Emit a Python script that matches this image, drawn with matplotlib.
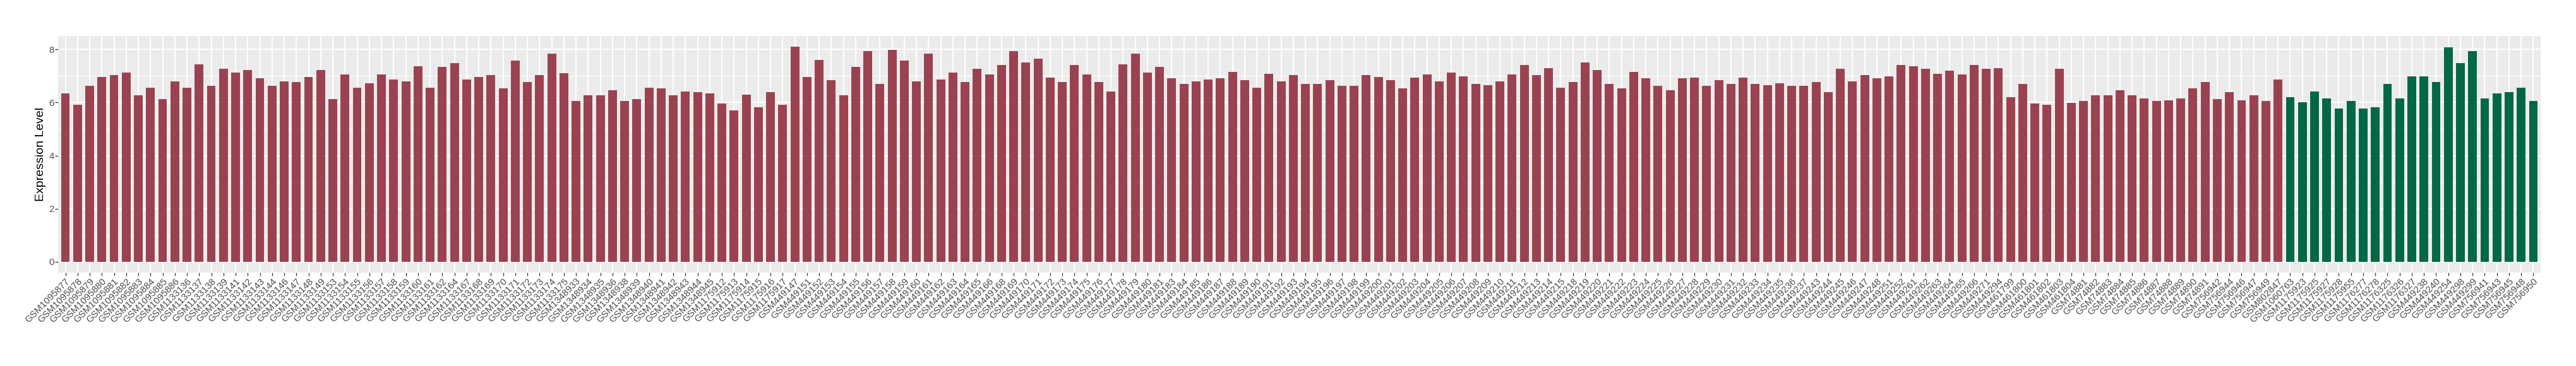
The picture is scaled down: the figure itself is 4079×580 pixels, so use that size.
import numpy as np
import matplotlib
matplotlib.use("Agg")
import matplotlib.pyplot as plt
from matplotlib.ticker import FixedLocator

# 第一组样本（暗红色）
samples_group1 = [
    "GSM1095877", "GSM1095878", "GSM1095879", "GSM1095880", "GSM1095881",
    "GSM1095882", "GSM1095883", "GSM1095884", "GSM1095885", "GSM1095886",
    "GSM1133136", "GSM1133137", "GSM1133138", "GSM1133139", "GSM1133141",
    "GSM1133142", "GSM1133143", "GSM1133144", "GSM1133146", "GSM1133147",
    "GSM1133148", "GSM1133149", "GSM1133153", "GSM1133154", "GSM1133155",
    "GSM1133156", "GSM1133157", "GSM1133158", "GSM1133159", "GSM1133160",
    "GSM1133161", "GSM1133162", "GSM1133164", "GSM1133167", "GSM1133168",
    "GSM1133169", "GSM1133170", "GSM1133171", "GSM1133172", "GSM1133173",
    "GSM1133174", "GSM1133175", "GSM1348933", "GSM1348934", "GSM1348935",
    "GSM1348936", "GSM1348938", "GSM1348939", "GSM1348940", "GSM1348941",
    "GSM1348942", "GSM1348943", "GSM1348944", "GSM1348945", "GSM1175912",
    "GSM1175913", "GSM1175914", "GSM1175915", "GSM1175916", "GSM1175917",
    "GSM449147", "GSM449151", "GSM449152", "GSM449153", "GSM449154",
    "GSM449155", "GSM449156", "GSM449157", "GSM449158", "GSM449159",
    "GSM449160", "GSM449161", "GSM449162", "GSM449163", "GSM449164",
    "GSM449165", "GSM449166", "GSM449168", "GSM449169", "GSM449170",
    "GSM449171", "GSM449172", "GSM449173", "GSM449174", "GSM449175",
    "GSM449176", "GSM449177", "GSM449178", "GSM449179", "GSM449180",
    "GSM449181", "GSM449183", "GSM449184", "GSM449185", "GSM449186",
    "GSM449187", "GSM449188", "GSM449189", "GSM449190", "GSM449191",
    "GSM449192", "GSM449193", "GSM449194", "GSM449195", "GSM449196",
    "GSM449197", "GSM449198", "GSM449199", "GSM449200", "GSM449201",
    "GSM449202", "GSM449203", "GSM449204", "GSM449205", "GSM449206",
    "GSM449207", "GSM449208", "GSM449209", "GSM449210", "GSM449211",
    "GSM449212", "GSM449213", "GSM449214", "GSM449215", "GSM449218",
    "GSM449219", "GSM449220", "GSM449221", "GSM449222", "GSM449223",
    "GSM449224", "GSM449225", "GSM449226", "GSM449227", "GSM449228",
    "GSM449229", "GSM449230", "GSM449231", "GSM449232", "GSM449233",
    "GSM449234", "GSM449235", "GSM449236", "GSM449237", "GSM449243",
    "GSM449244", "GSM449245", "GSM449246", "GSM449247", "GSM449248",
    "GSM449251", "GSM449252", "GSM449261", "GSM449262", "GSM449263",
    "GSM449264", "GSM449265", "GSM449266", "GSM449271", "GSM449294",
    "GSM461799", "GSM461800", "GSM461801", "GSM461802", "GSM461803",
    "GSM461804", "GSM74881", "GSM74882", "GSM74883", "GSM74884",
    "GSM74885", "GSM74886", "GSM74887", "GSM74888", "GSM74889",
    "GSM74890", "GSM74891", "GSM756942", "GSM756944", "GSM756946",
    "GSM756947", "GSM756949", "GSM802847",
]
values_group1 = [
    6.35, 5.91, 6.63, 6.97, 7.02, 7.13, 6.28, 6.56, 6.12, 6.80,
    6.56, 7.44, 6.62, 7.26, 7.13, 7.23, 6.90, 6.62, 6.80, 6.76,
    6.97, 7.23, 6.12, 7.06, 6.55, 6.73, 7.06, 6.87, 6.80, 7.37,
    6.56, 7.34, 7.49, 6.87, 6.97, 7.02, 6.52, 7.58, 6.78, 7.04,
    7.84, 7.11, 6.06, 6.26, 6.28, 6.47, 6.06, 6.12, 6.55, 6.52,
    6.26, 6.42, 6.38, 6.33, 5.95, 5.71, 6.30, 5.83, 6.40, 5.91,
    8.11, 6.97, 7.61, 6.85, 6.28, 7.34, 7.94, 6.70, 7.97, 7.58,
    6.80, 7.83, 6.87, 7.13, 6.76, 7.27, 7.06, 7.42, 7.94, 7.51,
    7.66, 6.94, 6.76, 7.40, 7.06, 6.76, 6.42, 7.44, 7.83, 7.13,
    7.33, 6.92, 6.70, 6.80, 6.87, 6.90, 7.16, 6.85, 6.55, 7.09,
    6.80, 7.02, 6.69, 6.69, 6.83, 6.63, 6.63, 7.02, 6.97, 6.85,
    6.52, 6.94, 7.06, 6.80, 7.13, 6.99, 6.69, 6.66, 6.80, 7.06,
    7.42, 7.02, 7.30, 6.55, 6.76, 7.51, 7.23, 6.69, 6.52, 7.16,
    6.92, 6.62, 6.45, 6.92, 6.94, 6.62, 6.85, 6.69, 6.94, 6.70,
    6.66, 6.73, 6.63, 6.62, 6.76, 6.40, 7.26, 6.80, 7.02, 6.92,
    6.99, 7.42, 7.37, 7.26, 7.09, 7.19, 7.06, 7.40, 7.26, 7.30,
    6.21, 6.69, 5.95, 5.92, 7.27, 5.98, 6.06, 6.28, 6.26, 6.47,
    6.26, 6.14, 6.06, 6.09, 6.14, 6.52, 6.76, 6.12, 6.38, 6.09,
    6.28, 6.06, 6.87,
]

# 第二组样本（深绿色）
samples_group2 = [
    "GSM1060763", "GSM1175923", "GSM1175925", "GSM1175927", "GSM1175928",
    "GSM1175955", "GSM1176277", "GSM1176278", "GSM1176325", "GSM1176326",
    "GSM1176327", "GSM449238", "GSM449240", "GSM449254", "GSM449298",
    "GSM449299", "GSM756941", "GSM756943", "GSM756945", "GSM756948",
    "GSM756950",
]
values_group2 = [
    6.19, 6.02, 6.42, 6.14, 5.78, 6.05, 5.76, 5.83, 6.70, 6.16,
    6.99, 6.99, 6.78, 8.08, 7.49, 7.94, 6.16, 6.35, 6.40, 6.55,
    6.06,
]

color_group1 = "#9B4251"
color_group2 = "#006847"

labels = samples_group1 + samples_group2
values = values_group1 + values_group2
colors = [color_group1] * len(samples_group1) + [color_group2] * len(samples_group2)
n = len(labels)
x = np.arange(n)

plt.rcParams['font.family'] = ['Liberation Sans', 'DejaVu Sans']

fig = plt.figure(figsize=(40.8, 5.8), dpi=100)
W, H = 4080, 580
left, right, top, bottom = 92, 4023, 56.5, 432
ax = fig.add_axes([left / W, 1 - bottom / H, (right - left) / W, (bottom - top) / H])

ax.set_facecolor("#EBEBEB")
ax.bar(x, values, width=0.72, color=colors, zorder=3)

ymax = max(values)
ax.set_xlim(-0.6, n - 1 + 0.6)
ax.set_ylim(-0.05 * ymax, ymax * 1.05)

# 网格线（仿 ggplot 风格）
ax.yaxis.set_major_locator(FixedLocator([0, 2, 4, 6, 8]))
ax.yaxis.set_minor_locator(FixedLocator([1, 3, 5, 7]))
ax.grid(axis='y', which='major', color='white', linewidth=1.5, zorder=1)
ax.grid(axis='y', which='minor', color='white', linewidth=0.75, zorder=1)
ax.grid(axis='x', which='major', color='white', linewidth=1.5, zorder=1)
ax.set_axisbelow(True)

for s in ax.spines.values():
    s.set_visible(False)

ax.set_xticks(x)
ax.set_xticklabels(labels, rotation=45, ha='right', va='top',
                   rotation_mode='anchor', fontsize=10.8, color='#4D4D4D')
ax.set_yticklabels(['0', '2', '4', '6', '8'], fontsize=10.8, color='#4D4D4D')
ax.tick_params(axis='both', which='major', length=3.4, width=0.9,
               color='#333333', pad=1.2)
ax.tick_params(axis='y', which='minor', length=0)

ax.set_ylabel("Expression Level", fontsize=14, color='black')
ax.yaxis.set_label_coords(-0.0048, 0.5)

fig.savefig("out.png", dpi=100)
plt.close(fig)
